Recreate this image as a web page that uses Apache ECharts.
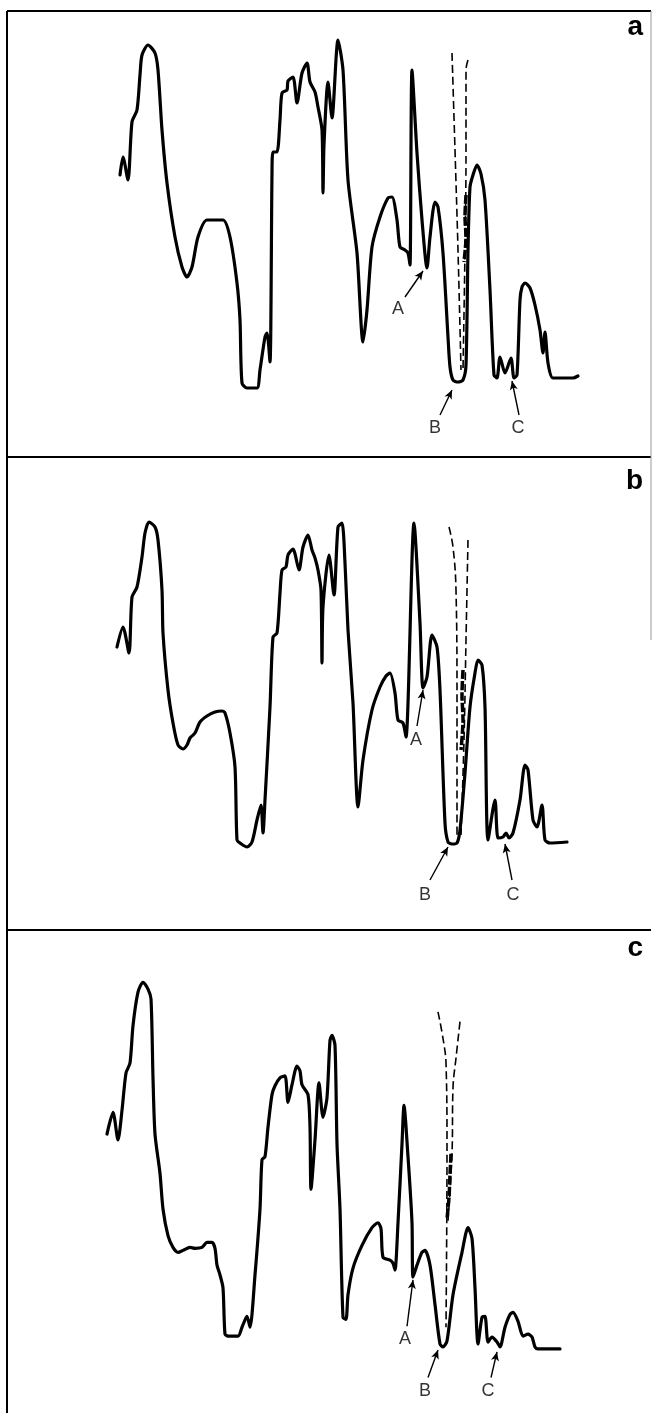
<!DOCTYPE html>
<html>
<head>
<meta charset="utf-8">
<script src="https://cdn.jsdelivr.net/npm/echarts/dist/echarts.min.js"></script>
<style>
html,body{margin:0;padding:0;background:#fff;}
#chart{width:652px;height:1413px;}
</style>
</head>
<body>
<div id="chart"></div>
<script>
// Abscissa: position in arbitrary units (0 = left frame); ordinate: signal in arbitrary units (0 = panel bottom)
const spectrumA = [[113,282],[116,300],[121,277],[125,335],[130,347],[133,382],[135,402],[141,412],[148,404],[151,387],[155,327],[160,274],[168,220],[175,190],[180,180],[185,190],[191,220],[200,237],[216,237],[223,220],[230,174],[233,137],[235,74],[240,69],[250,69],[253,87],[258,120],[260,124],[263,95],[265,284],[266,305],[270,305],[273,337],[275,364],[280,367],[281,376],[286,380],[290,354],[295,384],[300,394],[303,375],[308,365],[311,350],[315,327],[316,264],[317,312],[321,375],[325,339],[331,417],[336,387],[341,277],[350,204],[356,115],[360,147],[365,210],[373,240],[381,259],[385,260],[390,237],[393,210],[398,207],[401,204],[403,192],[405,387],[410,304],[415,237],[420,189],[423,220],[428,255],[431,250],[436,204],[441,120],[443,90],[446,77],[451,75],[456,77],[459,92],[461,207],[463,270],[466,282],[470,292],[474,283],[478,257],[483,167],[487,82],[490,79],[493,100],[498,84],[504,99],[507,79],[510,82],[513,157],[515,170],[518,174],[523,169],[528,152],[533,127],[536,104],[538,125],[541,94],[546,79],[566,79],[571,81]];
const spectrumB = [[110,283],[116,303],[122,277],[125,333],[130,343],[135,373],[138,397],[142,408],[148,403],[151,390],[155,340],[156,297],[161,240],[166,207],[171,185],[176,181],[180,185],[183,192],[188,197],[193,208],[200,214],[208,218],[215,219],[218,217],[223,197],[228,163],[230,90],[233,87],[240,83],[245,88],[250,110],[254,125],[256,97],[258,130],[263,223],[266,293],[270,297],[273,337],[275,360],[279,363],[281,375],[286,381],[292,360],[296,383],[301,395],[305,380],[308,372],[311,360],[314,340],[315,267],[316,323],[322,375],[327,335],[331,403],[335,407],[338,367],[341,300],[346,227],[351,123],[356,170],[365,220],[373,243],[379,254],[383,257],[388,237],[391,210],[396,207],[399,193],[407,407],[413,307],[416,242],[420,253],[425,295],[430,283],[433,240],[438,107],[441,88],[445,86],[450,87],[453,100],[458,157],[463,223],[468,257],[471,270],[475,265],[478,223],[481,90],[488,130],[491,92],[496,93],[499,97],[502,92],[506,97],[513,130],[518,165],[521,160],[526,110],[530,103],[535,125],[538,90],[543,87],[560,88]];
const spectrumC = [[100,276],[106,298],[111,270],[115,300],[119,338],[123,348],[126,386],[131,420],[136,430],[141,423],[144,413],[146,333],[148,276],[153,236],[156,200],[161,173],[166,161],[171,156],[176,158],[183,161],[188,160],[195,161],[200,166],[205,166],[208,160],[210,143],[213,133],[216,120],[218,73],[221,71],[231,71],[235,80],[240,91],[243,80],[248,133],[253,200],[255,250],[258,253],[261,283],[265,316],[268,325],[273,333],[278,335],[281,308],[285,326],[290,345],[293,340],[295,326],[301,316],[303,283],[304,220],[308,270],[312,328],[316,293],[320,313],[323,371],[325,376],[328,366],[330,266],[333,200],[336,90],[339,88],[341,113],[346,140],[355,163],[365,181],[371,186],[374,180],[376,151],[383,148],[386,145],[388,138],[391,186],[395,266],[397,305],[401,253],[405,186],[406,131],[410,143],[415,156],[418,158],[423,143],[428,103],[433,63],[436,60],[440,66],[446,113],[455,156],[461,181],[465,170],[468,120],[471,63],[475,90],[478,91],[481,65],[485,70],[490,65],[493,60],[498,80],[503,93],[506,95],[511,86],[516,71],[521,73],[525,70],[528,60],[531,58],[553,58]];

// dashed band contours (two branches + dense overlap section) per panel
const dashA1 = [[445,404],[448,307],[451,207],[454,87]];
const dashA2 = [[461,397],[459,387],[459,307],[458,207],[456,87]];
const dashA3 = [[459,262],[458,240],[459,220],[457,195]];
const dashB1 = [[442,403],[446,383],[449,340],[450,230],[450,95]];
const dashB2 = [[461,390],[459,290],[457,190],[454,95]];
const dashB3 = [[456,260],[455,235],[456,210],[454,180]];
const dashC1 = [[431,400],[436,373],[439,348],[440,263],[439,80]];
const dashC2 = [[453,390],[449,353],[446,323],[445,256],[441,188]];
const dashC3 = [[444,256],[443,235],[442,212],[440,190]];

// band annotations: label anchor, arrow tail, arrow head (data units)
const bandLabels = ['A','B','C'];
const annotA = [[[391,148],[398,160],[416,186]],[[428,29],[433,42],[445,67]],[[511,29],[512,42],[505,76]]];
const annotB = [[[409,190],[410,204],[416,240]],[[418,35],[423,50],[441,83]],[[506,35],[505,50],[498,86]]];
const annotC = [[[398,68],[400,81],[406,128]],[[418,15],[421,29],[431,57]],[[481,15],[484,29],[490,55]]];
const panelNames = ['a','b','c'];

const FONT = '"Liberation Sans", Arial, Helvetica, sans-serif';
const panels = [
  {spec: spectrumA, dashes: [dashA1, dashA2], dense: dashA3, ann: annotA, grid: {left:7, top:11, width:644, height:446}, ymin:0, ymax:446},
  {spec: spectrumB, dashes: [dashB1, dashB2], dense: dashB3, ann: annotB, grid: {left:7, top:457, width:644, height:473}, ymin:0, ymax:473},
  {spec: spectrumC, dashes: [dashC1, dashC2], dense: dashC3, ann: annotC, grid: {left:7, top:930, width:644, height:490}, ymin:-7, ymax:483}
];

const grid = [], xAxis = [], yAxis = [], series = [];
panels.forEach((p, i) => {
  grid.push(Object.assign({show:false}, p.grid));
  xAxis.push({type:'value', gridIndex:i, min:0, max:644, show:false});
  yAxis.push({type:'value', gridIndex:i, min:p.ymin, max:p.ymax, show:false});
  series.push({
    type:'line', xAxisIndex:i, yAxisIndex:i, data:p.spec, smooth:0.25,
    showSymbol:false, silent:true, z:3,
    lineStyle:{color:'#000', width:3.2, join:'round', cap:'round'}
  });
  p.dashes.forEach(d => series.push({
    type:'line', xAxisIndex:i, yAxisIndex:i, data:d, smooth:0.4,
    showSymbol:false, silent:true, z:2,
    lineStyle:{color:'#000', width:1.6, type:[8,4]}
  }));
  series.push({
    type:'line', xAxisIndex:i, yAxisIndex:i, data:p.dense, smooth:0.3,
    showSymbol:false, silent:true, z:2,
    lineStyle:{color:'#000', width:3.5, type:[9,2]}
  });
  series.push({
    type:'scatter', xAxisIndex:i, yAxisIndex:i, silent:true, z:4,
    symbolSize:1, itemStyle:{color:'rgba(0,0,0,0)'},
    data: p.ann.map((a, k) => ({name: bandLabels[k], value: a[0]})),
    label:{show:true, position:'inside', formatter:'{b}', color:'#000', fontSize:18, fontFamily:FONT},
    markLine:{
      silent:true, animation:false,
      symbol:['none','arrow'], symbolSize:[6,9],
      label:{show:false},
      lineStyle:{color:'#000', width:1.4, type:'solid'},
      emphasis:{disabled:true},
      data: p.ann.map(a => [{coord:a[1]}, {coord:a[2]}])
    }
  });
});

const frame = [
  {type:'line', shape:{x1:7,y1:11,x2:7,y2:1413}, style:{stroke:'#000', lineWidth:2}},
  {type:'line', shape:{x1:7,y1:11,x2:651,y2:11}, style:{stroke:'#000', lineWidth:2}},
  {type:'line', shape:{x1:7,y1:457,x2:651,y2:457}, style:{stroke:'#000', lineWidth:2}},
  {type:'line', shape:{x1:7,y1:930,x2:651,y2:930}, style:{stroke:'#000', lineWidth:2}},
  {type:'line', shape:{x1:651,y1:11,x2:651,y2:640}, style:{stroke:'#999', lineWidth:1}}
];
const panelLabelTops = [13, 467, 934];
panelNames.forEach((n, i) => frame.push({
  type:'text', right:9, top:panelLabelTops[i],
  style:{text:n, font:'bold 28px ' + FONT, fill:'#000'}
}));

const chart = echarts.init(document.getElementById('chart'), null, {renderer:'canvas'});
chart.setOption({
  animation:false,
  backgroundColor:'#fff',
  grid, xAxis, yAxis, series,
  graphic: frame
});
</script>
</body>
</html>
